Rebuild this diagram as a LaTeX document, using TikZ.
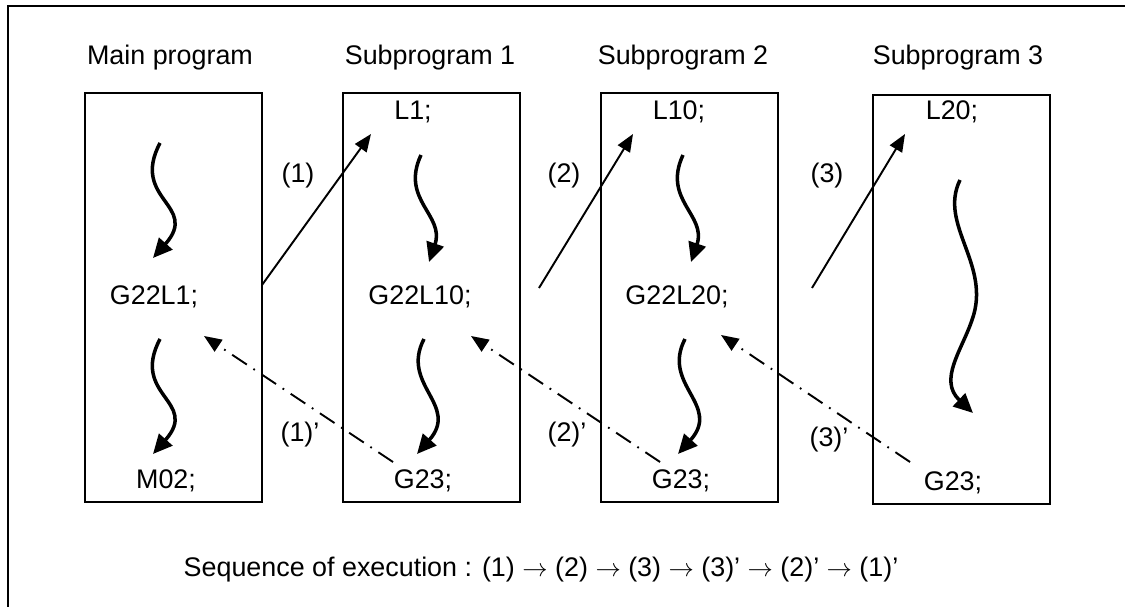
\documentclass[tikz,border=0pt]{standalone}
\usepackage{fontspec}
\setmainfont{Liberation Sans}
\usetikzlibrary{arrows.meta}

\tikzset{
  prog/.style={draw,line width=0.8pt,minimum width=3.54cm,minimum height=8.18cm,inner sep=0pt},
  txt/.style={font=\fontsize{15.3}{18}\selectfont,inner sep=0pt,anchor=base},
  wave/.style={line width=2pt,-{Triangle[length=11pt,width=10pt]}},
  call/.style={line width=1.1pt,-{Triangle[length=10pt,width=8pt]}},
  back/.style={line width=1.1pt,dash pattern=on 10pt off 4.5pt on 1pt off 4.5pt,-{Triangle[length=10pt,width=8pt]}}
}

\begin{document}
\begin{tikzpicture}[x=0.02cm,y=-0.02cm]
\useasboundingbox (0,0) rectangle (1125,607);
\draw[line width=1.1pt] (1125,6) -- (8,6) -- (8,607);

% program boxes
\node[prog] (main) at (173.5,297.5) {};
\node[prog] (sub1) at (431.5,297.5) {};
\node[prog] (sub2) at (689.5,297.5) {};
\node[prog] (sub3) at (961.5,299.5) {};

\node[txt] (tmain) at (170,65) {Main program};
\node[txt] (tsub1) at (430,65) {Subprogram 1};
\node[txt] (tsub2) at (683,65) {Subprogram 2};
\node[txt] (tsub3) at (958,65) {Subprogram 3};

\node[txt] (l1) at (413,120) {L1;};
\node[txt] (l10) at (679,120) {L10;};
\node[txt] (l20) at (952,120) {L20;};

\node[txt] (g22l1) at (154,305) {G22L1;};
\node[txt] (g22l10) at (420,305) {G22L10;};
\node[txt] (g22l20) at (677,305) {G22L20;};

\node[txt] (m02) at (166,488) {M02;};
\node[txt] (g23a) at (423,488) {G23;};
\node[txt] (g23b) at (681,488) {G23;};
\node[txt] (g23c) at (953,490) {G23;};

% flow inside the boxes
\draw[wave] (160,143) .. controls (130,200) and (200,205) .. (153,258);
\draw[wave] (160,339) .. controls (130,396) and (200,401) .. (153,454);
\draw[wave] (421,155) .. controls (400,200) and (445,215) .. (429,262);
\draw[wave] (424,339) .. controls (400,385) and (460,405) .. (417,454);
\draw[wave] (683,155) .. controls (662,200) and (707,215) .. (691,262);
\draw[wave] (685,339) .. controls (661,385) and (722,405) .. (678,454);
\draw[wave] (960,180) .. controls (938,225) and (992,265) .. (972,320)
  .. controls (962,350) and (938,380) .. (973,413);

% calls
\coordinate (c1a) at (262,285); \coordinate (c1b) at (371,134);
\coordinate (c2a) at (539,288); \coordinate (c2b) at (633,134);
\coordinate (c3a) at (812,288); \coordinate (c3b) at (905,134);
\draw[call] (c1a) -- (c1b);
\draw[call] (c2a) -- (c2b);
\draw[call] (c3a) -- (c3b);
\node[txt] (n1) at (298,183) {(1)};
\node[txt] (n2) at (564,183) {(2)};
\node[txt] (n3) at (827,183) {(3)};

% returns
\coordinate (r1a) at (393,462); \coordinate (r1b) at (204,336);
\coordinate (r2a) at (660,462); \coordinate (r2b) at (471,336);
\coordinate (r3a) at (910,462); \coordinate (r3b) at (721,335);
\draw[back] (r1a) -- (r1b);
\draw[back] (r2a) -- (r2b);
\draw[back] (r3a) -- (r3b);
\node[txt] (n1r) at (300,441) {(1)'};
\node[txt] (n2r) at (567,441) {(2)'};
\node[txt] (n3r) at (829,446) {(3)'};

\node[txt] (seq) at (541,576) {Sequence of execution : (1) $\rightarrow$ (2) $\rightarrow$ (3) $\rightarrow$ (3)' $\rightarrow$ (2)' $\rightarrow$ (1)'};
\end{tikzpicture}
\end{document}
